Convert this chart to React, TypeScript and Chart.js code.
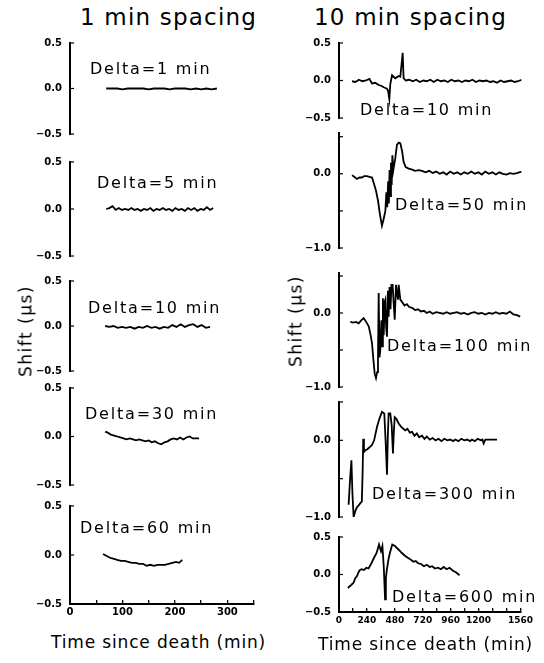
import React, { useEffect, useRef } from "react";
import { Chart, registerables } from "chart.js";
Chart.register(...registerables);

// ---------- DATA ----------
// Left column (1 min spacing), x = time since death (min), y = shift (µs)
const leftX1 = [69, 80, 90, 100, 110, 120, 130, 140, 150, 160, 170, 180, 190, 200, 210, 220, 230, 240, 250, 260, 270, 280];
const leftY1 = [0.0, 0.0, 0.0, -0.01, 0.0, 0.0, 0.0, 0.0, -0.01, 0.0, 0.0, 0.0, -0.01, 0.0, 0.0, 0.0, -0.01, 0.0, -0.01, 0.0, -0.01, 0.0];

const leftX2 = [69, 75, 81, 87, 93, 99, 105, 111, 117, 123, 129, 135, 141, 147, 153, 159, 165, 171, 177, 183, 189, 195, 201, 207, 213, 219, 225, 231, 237, 243, 249, 255, 261, 267, 273];
const leftY2 = [0.0, 0.01, 0.03, -0.01, 0.01, -0.01, 0.0, -0.01, 0.01, -0.01, 0.0, -0.02, 0.0, -0.01, 0.01, -0.02, 0.0, -0.01, 0.01, -0.01, 0.0, -0.02, 0.01, -0.01, 0.0, -0.02, 0.01, -0.01, 0.01, -0.02, 0.0, -0.01, 0.02, -0.01, 0.01];

const leftX3 = [67, 75, 83, 91, 99, 107, 115, 123, 131, 139, 147, 155, 163, 171, 179, 187, 195, 203, 211, 219, 227, 235, 243, 251, 259, 267];
const leftY3 = [0.0, -0.01, 0.0, -0.02, -0.01, -0.02, -0.01, -0.03, -0.01, -0.02, 0.0, -0.02, -0.01, -0.03, -0.01, -0.02, 0.01, -0.01, 0.02, -0.01, 0.01, 0.02, -0.01, 0.01, -0.02, -0.01];

const leftX4 = [67, 72, 78, 84, 90, 96, 102, 108, 114, 120, 126, 132, 138, 144, 150, 156, 162, 168, 174, 180, 186, 192, 198, 204, 210, 216, 222, 228, 234, 240, 246];
const leftY4 = [0.05, 0.04, 0.02, 0.01, 0.0, -0.01, -0.02, -0.03, -0.02, -0.03, -0.04, -0.03, -0.04, -0.05, -0.04, -0.06, -0.05, -0.07, -0.08, -0.06, -0.05, -0.03, -0.02, -0.03, -0.01, -0.03, -0.01, 0.0, -0.02, -0.02, -0.02];

const leftX5 = [63, 70, 77, 84, 90, 97, 104, 111, 118, 125, 132, 139, 146, 153, 160, 167, 174, 181, 188, 195, 202, 208, 214];
const leftY5 = [0.01, -0.01, -0.03, -0.04, -0.05, -0.06, -0.06, -0.07, -0.08, -0.08, -0.09, -0.09, -0.11, -0.10, -0.11, -0.10, -0.10, -0.10, -0.09, -0.08, -0.07, -0.08, -0.05];

// Right column (10 min spacing)
const rightX1 = [111, 140, 170, 200, 230, 260, 282, 310, 339, 360, 382, 410, 420, 430, 438, 453, 481, 510, 524, 544, 552, 570, 600, 630, 660, 690, 720, 750, 780, 810, 840, 870, 900, 930, 960, 990, 1020, 1050, 1080, 1110, 1140, 1170, 1200, 1230, 1260, 1290, 1320, 1350, 1380, 1410, 1440, 1470, 1500, 1530, 1560];
const rightY1 = [-0.01, -0.02, 0.01, -0.01, 0.0, 0.02, -0.04, -0.03, -0.06, -0.07, -0.09, -0.11, -0.14, -0.25, -0.05, 0.07, 0.03, 0.06, 0.05, 0.37, 0.03, 0.0, 0.01, -0.01, 0.01, -0.02, 0.0, -0.01, 0.01, -0.02, 0.01, -0.01, 0.0, -0.02, 0.01, -0.01, 0.0, -0.02, 0.0, -0.01, 0.01, -0.02, 0.0, -0.01, 0.0, -0.02, -0.01, -0.03, 0.0, -0.02, -0.01, 0.0, -0.02, -0.01, 0.01];

const rightX2 = [111, 130, 154, 175, 196, 215, 239, 260, 282, 296, 315, 333, 350, 367, 380, 396, 405, 412, 420, 426, 432, 438, 444, 450, 456, 464, 480, 495, 510, 524, 540, 552, 570, 595, 620, 650, 680, 709, 740, 770, 800, 830, 860, 890, 920, 950, 980, 1010, 1040, 1070, 1100, 1130, 1160, 1190, 1220, 1250, 1280, 1310, 1340, 1370, 1400, 1430, 1460, 1490, 1520, 1560];
const rightY2 = [-0.02, -0.04, -0.07, -0.05, -0.05, -0.03, -0.03, -0.04, -0.05, -0.12, -0.22, -0.36, -0.55, -0.70, -0.62, -0.50, -0.25, -0.45, -0.10, -0.40, 0.05, -0.30, 0.15, -0.15, 0.25, 0.05, 0.20, 0.39, 0.42, 0.41, 0.30, 0.16, 0.09, 0.07, 0.06, 0.04, 0.05, 0.04, 0.02, 0.04, 0.01, 0.03, 0.0, 0.02, -0.01, 0.03, 0.0, 0.02, -0.01, 0.02, 0.0, 0.03, 0.0, 0.02, -0.01, 0.03, 0.0, 0.02, -0.01, 0.02, 0.0, -0.01, 0.01, 0.0, 0.01, 0.03];

const rightX3 = [97, 120, 145, 168, 190, 211, 232, 254, 270, 282, 295, 305, 316, 326, 333, 339, 346, 353, 362, 368, 375, 382, 390, 396, 403, 410, 418, 424, 432, 440, 448, 458, 468, 476, 487, 496, 504, 510, 524, 538, 560, 580, 600, 625, 650, 675, 700, 725, 750, 775, 800, 830, 860, 890, 920, 950, 980, 1010, 1040, 1070, 1100, 1130, 1160, 1190, 1220, 1250, 1280, 1310, 1340, 1370, 1400, 1430, 1460, 1490, 1520, 1548];
const rightY3 = [-0.12, -0.13, -0.12, -0.14, -0.10, -0.07, -0.12, -0.18, -0.30, -0.41, -0.65, -0.82, -0.88, -0.80, -0.64, 0.27, -0.60, -0.50, -0.10, -0.45, 0.20, -0.30, 0.15, 0.18, -0.20, -0.32, 0.30, -0.05, 0.35, 0.05, 0.38, 0.38, 0.10, -0.09, 0.38, 0.25, 0.18, 0.38, 0.18, 0.15, 0.10, 0.12, 0.08, 0.07, 0.04, 0.05, 0.02, 0.03, 0.0, 0.02, -0.01, 0.01, 0.0, -0.01, 0.01, -0.01, 0.0, 0.01, -0.01, 0.0, -0.02, 0.0, 0.01, -0.01, 0.0, -0.02, 0.0, -0.01, 0.01, -0.01, 0.0, -0.01, 0.02, -0.02, -0.03, -0.05];

const rightX4 = [82, 95, 106, 115, 125, 140, 154, 168, 182, 195, 202, 207, 213, 225, 239, 254, 270, 282, 300, 324, 345, 367, 387, 398, 410, 418, 424, 438, 450, 461, 468, 476, 490, 510, 530, 550, 567, 585, 605, 624, 645, 665, 685, 709, 730, 750, 775, 800, 825, 851, 875, 900, 925, 950, 975, 994, 1020, 1045, 1070, 1095, 1120, 1136, 1160, 1185, 1210, 1225, 1236, 1250, 1280, 1310, 1350];
const rightY4 = [-0.84, -0.50, -0.26, -0.70, -1.0, -0.92, -0.87, -0.85, -0.82, -0.80, -0.40, 0.02, -0.15, -0.13, -0.12, -0.10, -0.08, -0.06, 0.0, 0.17, 0.28, 0.37, 0.35, 0.0, -0.45, 0.10, 0.35, 0.35, 0.20, -0.17, 0.10, 0.30, 0.28, 0.22, 0.18, 0.15, 0.13, 0.15, 0.10, 0.11, 0.06, 0.09, 0.04, 0.06, 0.02, 0.05, 0.01, 0.03, 0.0, 0.02, -0.01, 0.02, 0.0, 0.01, -0.01, 0.01, -0.01, 0.02, 0.0, 0.01, -0.01, 0.01, -0.01, 0.02, 0.0, 0.01, -0.04, 0.01, 0.01, 0.01, 0.01];

const rightX5 = [77, 90, 105, 125, 140, 155, 168, 180, 196, 215, 235, 254, 268, 282, 300, 324, 344, 361, 373, 385, 396, 403, 410, 425, 438, 458, 481, 500, 520, 538, 560, 575, 595, 615, 640, 660, 680, 705, 730, 755, 780, 800, 825, 851, 875, 900, 925, 950, 980, 1005, 1036];
const rightY5 = [-0.18, -0.16, -0.14, -0.11, -0.05, -0.02, 0.03, 0.06, 0.07, 0.06, 0.09, 0.08, 0.12, 0.16, 0.22, 0.29, 0.40, 0.31, 0.38, 0.10, -0.33, -0.05, 0.05, 0.20, 0.29, 0.40, 0.38, 0.35, 0.32, 0.29, 0.26, 0.24, 0.22, 0.20, 0.17, 0.18, 0.15, 0.14, 0.11, 0.13, 0.10, 0.11, 0.08, 0.09, 0.07, 0.10, 0.07, 0.09, 0.05, 0.03, -0.01];

// Tick values and labels
const leftYTicks = [0.5, 0, -0.5];
const leftYLabels = [0.5, 0, -0.5];
const rightYTicksTall = [0.5, 0, -0.5, -1.0];
const rightYLabelsTall = [0, -1.0];
const leftXTicks = [0, 50, 100, 150, 200, 250, 300, 350];
const leftXLabels = [0, 100, 200, 300];
const rightXTicks = [0, 120, 240, 360, 480, 600, 720, 840, 960, 1080, 1200, 1320, 1440, 1560];
const rightXLabels = [0, 240, 480, 720, 960, 1200, 1560];

const leftDeltas = ["Delta=1 min", "Delta=5 min", "Delta=10 min", "Delta=30 min", "Delta=60 min"];
const rightDeltas = ["Delta=10 min", "Delta=50 min", "Delta=100 min", "Delta=300 min", "Delta=600 min"];

// ---------- LAYOUT ----------
const FONT = "'DejaVu Sans', 'Liberation Sans', sans-serif";
const YW = 44;
const PT = 8;
const PR = 18;
const PB = 8;
const XH = 20;

type PanelSpec = {
  xs: number[];
  ys: number[];
  xMax: number;
  yMin: number;
  yMax: number;
  yTicks: number[];
  yLabels: number[];
  xTicks: number[] | null;
  xLabels: number[] | null;
  axisX: number;
  plotW: number;
  top: number;
  bottom: number;
  xFont: number;
  xPad: number;
};

const LAX = 70;
const LW = 183.6;
const RAX = 339;
const RW = 182.6;

const panels: PanelSpec[] = [
  { xs: leftX1, ys: leftY1, xMax: 350, yMin: -0.5, yMax: 0.5, yTicks: leftYTicks, yLabels: leftYLabels, xTicks: null, xLabels: null, axisX: LAX, plotW: LW, top: 43, bottom: 134, xFont: 10, xPad: 6 },
  { xs: leftX2, ys: leftY2, xMax: 350, yMin: -0.5, yMax: 0.5, yTicks: leftYTicks, yLabels: leftYLabels, xTicks: null, xLabels: null, axisX: LAX, plotW: LW, top: 162, bottom: 256, xFont: 10, xPad: 6 },
  { xs: leftX3, ys: leftY3, xMax: 350, yMin: -0.5, yMax: 0.5, yTicks: leftYTicks, yLabels: leftYLabels, xTicks: null, xLabels: null, axisX: LAX, plotW: LW, top: 281, bottom: 371, xFont: 10, xPad: 6 },
  { xs: leftX4, ys: leftY4, xMax: 350, yMin: -0.5, yMax: 0.5, yTicks: leftYTicks, yLabels: leftYLabels, xTicks: null, xLabels: null, axisX: LAX, plotW: LW, top: 388, bottom: 485, xFont: 10, xPad: 6 },
  { xs: leftX5, ys: leftY5, xMax: 350, yMin: -0.5, yMax: 0.5, yTicks: leftYTicks, yLabels: leftYLabels, xTicks: leftXTicks, xLabels: leftXLabels, axisX: LAX, plotW: LW, top: 506, bottom: 604, xFont: 10, xPad: 6 },
  { xs: rightX1, ys: rightY1, xMax: 1560, yMin: -0.5, yMax: 0.5, yTicks: leftYTicks, yLabels: leftYLabels, xTicks: null, xLabels: null, axisX: RAX, plotW: RW, top: 43, bottom: 118, xFont: 9, xPad: 7 },
  { xs: rightX2, ys: rightY2, xMax: 1560, yMin: -1.0, yMax: 0.55, yTicks: rightYTicksTall, yLabels: rightYLabelsTall, xTicks: null, xLabels: null, axisX: RAX, plotW: RW, top: 133, bottom: 248, xFont: 9, xPad: 7 },
  { xs: rightX3, ys: rightY3, xMax: 1560, yMin: -1.0, yMax: 0.54, yTicks: rightYTicksTall, yLabels: rightYLabelsTall, xTicks: null, xLabels: null, axisX: RAX, plotW: RW, top: 273, bottom: 387, xFont: 9, xPad: 7 },
  { xs: rightX4, ys: rightY4, xMax: 1560, yMin: -1.0, yMax: 0.5, yTicks: rightYTicksTall, yLabels: rightYLabelsTall, xTicks: null, xLabels: null, axisX: RAX, plotW: RW, top: 402, bottom: 517, xFont: 9, xPad: 7 },
  { xs: rightX5, ys: rightY5, xMax: 1560, yMin: -0.5, yMax: 0.5, yTicks: leftYTicks, yLabels: leftYLabels, xTicks: rightXTicks, xLabels: rightXLabels, axisX: RAX, plotW: RW, top: 537, bottom: 612, xFont: 9, xPad: 7 },
];

const leftDeltaPos = [
  { x: 90, y: 69 },
  { x: 97, y: 183 },
  { x: 88, y: 308 },
  { x: 85, y: 414 },
  { x: 80, y: 528 },
];
const rightDeltaPos = [
  { x: 360, y: 110 },
  { x: 395, y: 205 },
  { x: 387, y: 346 },
  { x: 372, y: 494 },
  { x: 392, y: 597 },
];

function fmt(v: number): string {
  return v.toFixed(1).replace("-", "\u2212");
}

// Draws the vertical y axis line and its inward tick marks from the y scale.
const yAxisPlugin = {
  id: "yAxisLine",
  afterDraw(chart: any) {
    const ctx = chart.ctx;
    const area = chart.chartArea;
    const yScale = chart.scales.y;
    ctx.save();
    ctx.fillStyle = "#000";
    const xl = Math.round(area.left);
    ctx.fillRect(xl - 1, area.top - 1, 2, area.bottom - area.top + 2);
    if (yScale && yScale.ticks) {
      for (let i = 0; i < yScale.ticks.length; i++) {
        const py = yScale.getPixelForValue(yScale.ticks[i].value);
        ctx.fillRect(xl, py - 0.6, 4, 1.2);
      }
    }
    ctx.restore();
  },
};

function PanelChart({ spec }: { spec: PanelSpec }) {
  const ref = useRef<HTMLCanvasElement | null>(null);
  const hasX = !!spec.xTicks;
  const plotH = spec.bottom - spec.top;
  const width = Math.round(YW + spec.plotW + PR);
  const height = Math.round(PT + plotH + (hasX ? XH : PB));

  useEffect(() => {
    if (!ref.current) return;
    const chart = new Chart(ref.current, {
      type: "line",
      data: {
        datasets: [
          {
            data: spec.xs.map((x, i) => ({ x, y: spec.ys[i] })),
            borderColor: "#000",
            borderWidth: 1.8,
            pointRadius: 0,
            tension: 0,
            fill: false,
          },
        ],
      },
      plugins: [yAxisPlugin],
      options: {
        animation: false,
        responsive: false,
        maintainAspectRatio: false,
        devicePixelRatio: 1,
        layout: { padding: { top: PT, right: width - YW - spec.plotW, bottom: hasX ? 0 : PB, left: 0 } },
        plugins: { legend: { display: false }, tooltip: { enabled: false }, title: { display: false } },
        scales: {
          x: {
            type: "linear",
            min: 0,
            max: spec.xMax,
            display: hasX,
            afterFit: (s: any) => {
              if (hasX) s.height = XH;
            },
            afterBuildTicks: (s: any) => {
              if (spec.xTicks) s.ticks = spec.xTicks.map((v) => ({ value: v }));
            },
            ticks: {
              autoSkip: false,
              maxRotation: 0,
              minRotation: 0,
              padding: spec.xPad,
              color: "#000",
              font: { family: FONT, size: spec.xFont, weight: "bold" },
              callback: (v: any) => (spec.xLabels && spec.xLabels.includes(Number(v)) ? String(v) : ""),
            },
            grid: { drawOnChartArea: false, drawTicks: true, tickLength: -4, color: "#000", lineWidth: 1.3 },
            border: { display: true, color: "#000", width: 2 },
          },
          y: {
            type: "linear",
            position: "left",
            min: spec.yMin,
            max: spec.yMax,
            afterFit: (s: any) => {
              s.width = YW;
            },
            afterBuildTicks: (s: any) => {
              s.ticks = spec.yTicks.map((v) => ({ value: v }));
            },
            ticks: {
              autoSkip: false,
              padding: 0,
              color: "#000",
              font: { family: FONT, size: 10, weight: "bold" },
              callback: (v: any) => (spec.yLabels.includes(Number(v)) ? fmt(Number(v)) : ""),
            },
            grid: { display: false },
            border: { display: false },
          },
        },
      },
    } as any);
    return () => chart.destroy();
  }, []);

  return (
    <canvas
      ref={ref}
      width={width}
      height={height}
      style={{ position: "absolute", left: spec.axisX - YW, top: spec.top - PT, width, height }}
    />
  );
}

function Label({ text, x, y, size, ls }: { text: string; x: number; y: number; size: number; ls: number }) {
  return (
    <div
      style={{
        position: "absolute",
        left: x,
        top: y - size / 2,
        fontFamily: FONT,
        fontSize: size,
        lineHeight: `${size}px`,
        letterSpacing: ls,
        whiteSpace: "pre",
        color: "#000",
      }}
    >
      {text}
    </div>
  );
}

function VLabel({ text, cx, cy, size, ls }: { text: string; cx: number; cy: number; size: number; ls: number }) {
  return (
    <div
      style={{
        position: "absolute",
        left: cx,
        top: cy,
        transform: "translate(-50%, -50%) rotate(-90deg)",
        fontFamily: FONT,
        fontSize: size,
        lineHeight: `${size}px`,
        letterSpacing: ls,
        whiteSpace: "pre",
        color: "#000",
      }}
    >
      {text}
    </div>
  );
}

export default function App() {
  return (
    <div style={{ position: "absolute", left: 0, top: 0, width: 544, height: 663, background: "#fff", overflow: "hidden" }}>
      {panels.map((p, i) => (
        <PanelChart key={i} spec={p} />
      ))}
      <Label text="1 min spacing" x={80} y={17} size={23} ls={1.2} />
      <Label text="10 min spacing" x={314} y={17} size={23} ls={1.2} />
      {leftDeltas.map((t, i) => (
        <Label key={"l" + i} text={t} x={leftDeltaPos[i].x} y={leftDeltaPos[i].y} size={16} ls={1.8} />
      ))}
      {rightDeltas.map((t, i) => (
        <Label key={"r" + i} text={t} x={rightDeltaPos[i].x} y={rightDeltaPos[i].y} size={16} ls={1.8} />
      ))}
      <VLabel text="Shift (µs)" cx={26} cy={331} size={17} ls={1.5} />
      <VLabel text="Shift (µs)" cx={296} cy={321} size={17} ls={1.5} />
      <Label text="Time since death (min)" x={51} y={642} size={17} ls={0.85} />
      <Label text="Time since death (min)" x={318} y={644} size={17} ls={0.85} />
    </div>
  );
}
